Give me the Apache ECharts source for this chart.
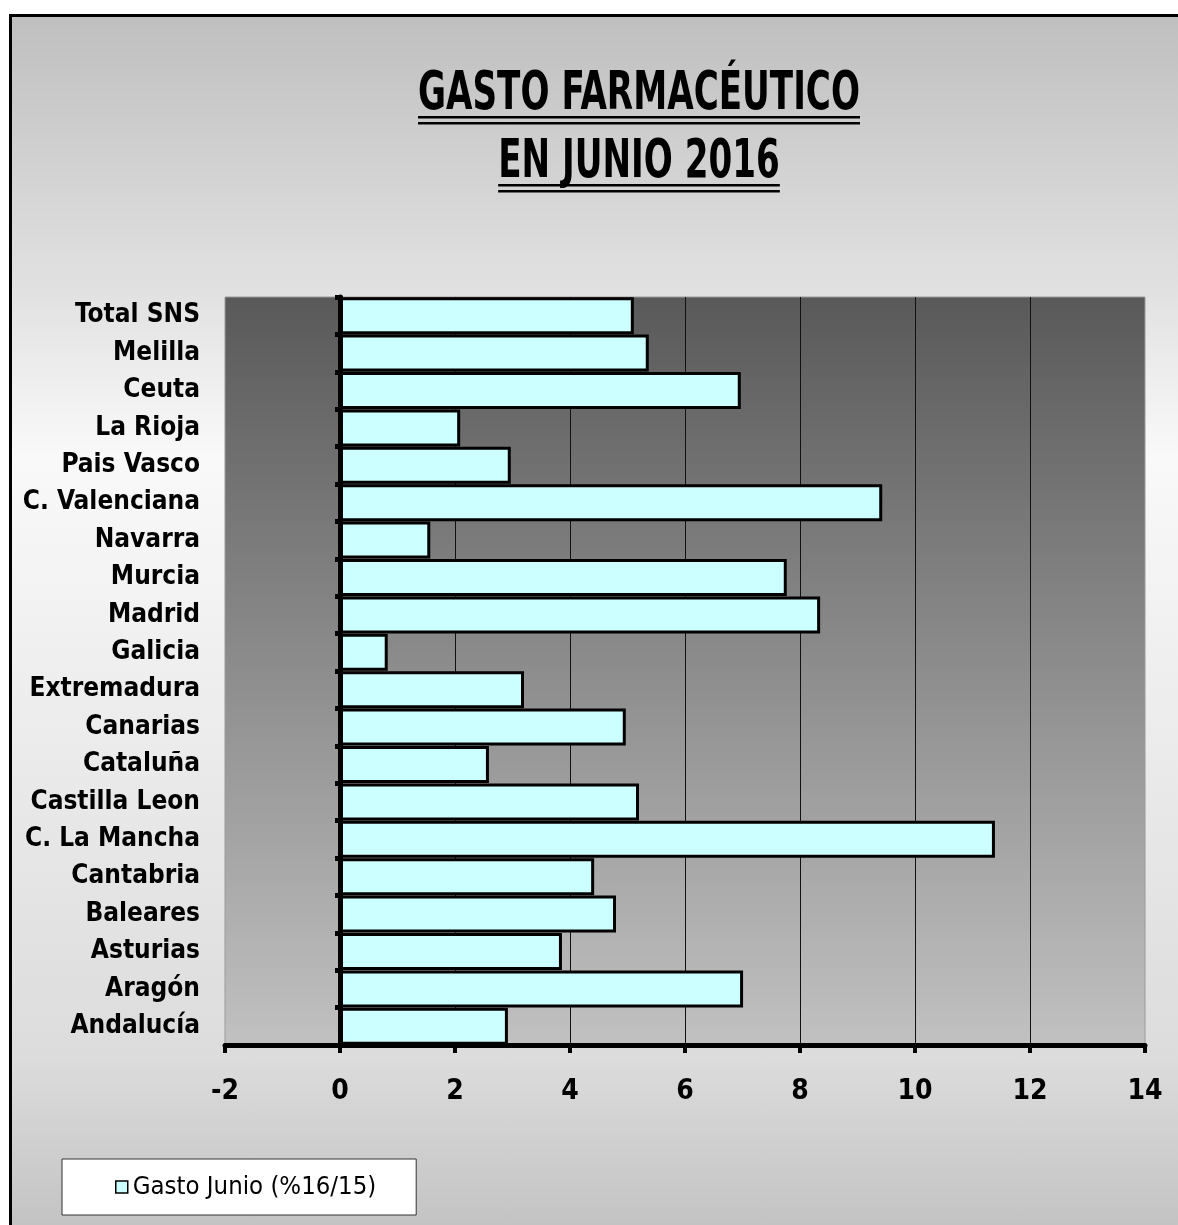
<!DOCTYPE html>
<html>
<head>
<meta charset="utf-8">
<script src="https://cdn.jsdelivr.net/npm/echarts@6/dist/echarts.min.js"></script>
<style>
  html, body { margin: 0; padding: 0; background: #ffffff; overflow: hidden; }
  #frame {
    position: absolute; left: 9px; top: 14px; width: 1200px; height: 1260px;
    border-left: 3px solid #000; border-top: 3px solid #000;
    background: linear-gradient(to bottom, #bfbfbf 0px, #e2e2e2 280px, #f9f9f9 440px, #dcdcdc 1040px, #c3c3c3 1211px);
  }
  #chart { position: absolute; left: 0; top: 0; width: 1178px; height: 1225px; }
</style>
</head>
<body>
<div id="frame"></div>
<div id="chart"></div>
<script>
// ---- data ----
const categories = ['Total SNS', 'Melilla', 'Ceuta', 'La Rioja', 'Pais Vasco', 'C. Valenciana', 'Navarra', 'Murcia', 'Madrid', 'Galicia', 'Extremadura', 'Canarias', 'Cataluña', 'Castilla Leon', 'C. La Mancha', 'Cantabria', 'Baleares', 'Asturias', 'Aragón', 'Andalucía'];
const gastoJunio = [5.11, 5.37, 6.97, 2.09, 2.97, 9.43, 1.57, 7.77, 8.35, 0.83, 3.2, 4.97, 2.59, 5.2, 11.39, 4.42, 4.8, 3.86, 7.01, 2.92];
const seriesName = 'Gasto Junio (%16/15)';
const titleLines = ['GASTO FARMACÉUTICO', 'EN JUNIO 2016'];
const xMin = -2, xMax = 14, xStep = 2;

const FONT = "'Liberation Sans Narrow', 'Arial Narrow', 'DejaVu Sans Condensed', sans-serif";

// title: condensed horizontally to imitate a narrow face
const TITLE_SIZE = 54;
const mc = document.createElement('canvas').getContext('2d');
mc.font = 'bold ' + TITLE_SIZE + 'px ' + FONT;
const rawW0 = mc.measureText(titleLines[0]).width;
const titleScaleX = 442 / rawW0;
const titleW = titleLines.map(t => mc.measureText(t).width * titleScaleX);
const titleX = 639;
const titleY = [95, 163];

const underline = [];
titleLines.forEach((t, i) => {
  const w = titleW[i];
  [22, 28].forEach(dy => {
    underline.push({
      type: 'rect',
      shape: { x: titleX - w / 2, y: titleY[i] + dy - 1, width: w, height: 2.5 },
      style: { fill: '#000' }
    });
  });
});

const chart = echarts.init(document.getElementById('chart'), null, { renderer: 'canvas' });
chart.setOption({
  animation: false,
  textStyle: { fontFamily: FONT },
  graphic: [
    ...titleLines.map((t, i) => ({
      type: 'text',
      x: titleX, y: titleY[i],
      scaleX: titleScaleX,
      style: { text: t, font: 'bold ' + TITLE_SIZE + 'px ' + FONT, fill: '#000', align: 'center', verticalAlign: 'middle' }
    })),
    ...underline
  ],
  grid: {
    left: 225, right: 33, top: 297, bottom: 180,
    outerBoundsMode: 'none',
    containLabel: false,
    show: true,
    backgroundColor: { type: 'linear', x: 0, y: 0, x2: 0, y2: 1,
      colorStops: [{ offset: 0, color: '#595959' }, { offset: 1, color: '#c1c1c1' }] },
    borderColor: '#9a9a9a', borderWidth: 1
  },
  legend: {
    data: [seriesName],
    left: 62, top: 1159,
    orient: 'horizontal',
    backgroundColor: '#ffffff',
    borderColor: '#333', borderWidth: 1,
    padding: [13, 40, 13, 53],
    icon: 'rect', itemWidth: 12, itemHeight: 12,
    itemStyle: { color: '#ccffff', borderColor: '#000', borderWidth: 1.5 },
    textStyle: { fontFamily: FONT, fontSize: 25.5, color: '#000', lineHeight: 30 }
  },
  xAxis: {
    type: 'value', min: xMin, max: xMax, interval: xStep,
    axisLine: { show: true, onZero: false, lineStyle: { color: '#000', width: 5 } },
    axisTick: { show: true, length: 8, lineStyle: { color: '#000', width: 4 } },
    axisLabel: { margin: 33, fontFamily: FONT, fontWeight: 'bold', fontSize: 28, color: '#000' },
    splitLine: { show: true, showMinLine: false, showMaxLine: false, lineStyle: { color: '#111', width: 1 } }
  },
  yAxis: {
    type: 'category', data: categories, inverse: true, z: 10,
    axisLine: { show: true, onZero: true, lineStyle: { color: '#000', width: 5 } },
    axisTick: { show: true, length: 5, lineStyle: { color: '#000', width: 5 } },
    axisLabel: { interval: 0, margin: 25, fontFamily: FONT, fontWeight: 'bold', fontSize: 26, color: '#000' },
    splitLine: { show: false }
  },
  series: [{
    name: seriesName,
    type: 'bar',
    data: gastoJunio,
    barCategoryGap: '1%',
    itemStyle: { color: '#ccffff', borderColor: '#000', borderWidth: 3 }
  }]
});
</script>
</body>
</html>
